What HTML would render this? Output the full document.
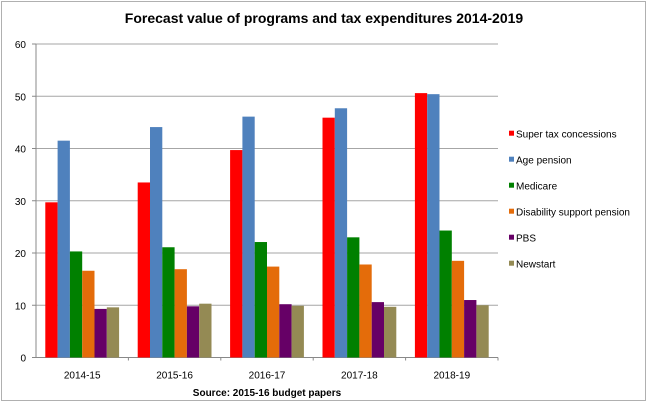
<!DOCTYPE html>
<html><head><meta charset="utf-8"><style>
html,body{margin:0;padding:0;background:#fff;}
svg{display:block;font-family:"Liberation Sans",Arial,sans-serif;}
</style></head><body>
<svg id="chart" width="648" height="403" viewBox="0 0 648 403">
<rect x="1.5" y="1.5" width="644" height="399" fill="#fff" stroke="#b0b0b0"/>
<text x="324" y="23" text-anchor="middle" font-size="14" font-weight="bold" fill="#000">Forecast value of programs and tax expenditures 2014-2019</text>
<g id="grid"></g><g id="bars"></g><g id="axes"></g><g id="legend"></g>
<text x="267" y="396" text-anchor="middle" font-size="10" font-weight="bold" fill="#000">Source: 2015-16 budget papers</text>
</svg>
<script>
const categories=["2014-15","2015-16","2016-17","2017-18","2018-19"];
const seriesNames=["Super tax concessions","Age pension","Medicare","Disability support pension","PBS","Newstart"];
const seriesColors=["#ff0000","#4f81bd","#008000","#e46c0a","#660066","#948a54"];
const superTax=[29.7,33.5,39.7,45.9,50.6];
const agePension=[41.5,44.1,46.1,47.7,50.4];
const medicare=[20.3,21.1,22.1,23.0,24.3];
const disability=[16.6,16.9,17.4,17.8,18.5];
const pbs=[9.3,9.8,10.2,10.6,11.0];
const newstart=[9.6,10.3,9.9,9.7,10.0];
const yTicks=[0,10,20,30,40,50,60];
const series=[superTax,agePension,medicare,disability,pbs,newstart];
const NS="http://www.w3.org/2000/svg";
const L=36,R=498,T=44,B=357.5,ymax=60;
const y=v=>B-(v/ymax)*(B-T);
const bandW=(R-L)/categories.length;
const xBand=i=>L+i*bandW;
const barW=12.3,pad=(bandW-barW*6)/2;
function mk(tag,attrs,parent){const e=document.createElementNS(NS,tag);for(const k in attrs)e.setAttribute(k,attrs[k]);document.getElementById(parent).appendChild(e);return e;}
yTicks.forEach(t=>{
 const g=mk("line",{x1:L,x2:R,y1:y(t),y2:y(t),stroke:t===0?"#888":"#a6a6a6","stroke-width":1},"grid");
 
 
 const tk=mk("line",{x1:L-4,x2:L,y1:y(t),y2:y(t),stroke:"#888"},"axes");
 
 
 const lb=mk("text",{x:L-10,y:y(t)+4,"text-anchor":"end","font-size":"10",fill:"#000"},"axes");
 lb.textContent=t;
 
 
});
const ax=mk("line",{x1:L,x2:L,y1:T,y2:B,stroke:"#888"},"axes");


categories.forEach((c,i)=>{
 const tk=mk("line",{x1:xBand(i+1),x2:xBand(i+1),y1:B,y2:B+3,stroke:"#888"},"axes");
 
 
 const lb=mk("text",{x:xBand(i)+bandW/2,y:B+21,"text-anchor":"middle","font-size":"10",fill:"#000"},"axes");
 lb.textContent=c;
 
 
 series.forEach((s,j)=>{
  const r=mk("rect",{x:xBand(i)+pad+j*barW,y:y(s[i]),width:barW,height:B-y(s[i]),fill:seriesColors[j]},"bars");
  
  
 });
});
seriesNames.forEach((n,j)=>{
 const yy=134.7+j*26;
 const sq=mk("rect",{x:509,y:yy-4,width:5,height:5,fill:seriesColors[j]},"legend");
 
 
 const t=mk("text",{x:516,y:yy+3,"font-size":"10",fill:"#000"},"legend");
 t.textContent=n;
 
 
});
</script>
</body></html>
